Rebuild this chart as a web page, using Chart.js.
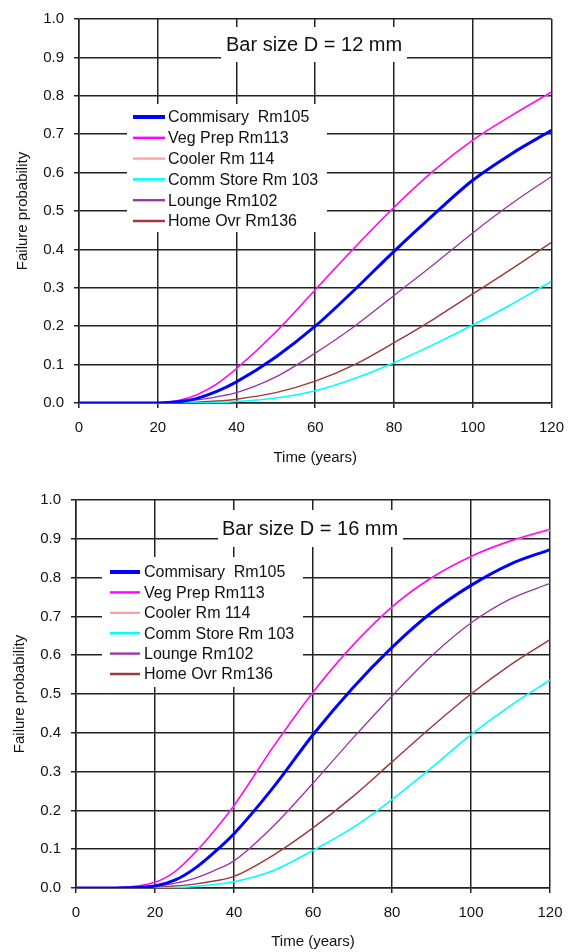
<!DOCTYPE html>
<html>
<head>
<meta charset="utf-8">
<script src="https://cdn.jsdelivr.net/npm/chart.js@4.4.0/dist/chart.umd.min.js"></script>
<style>
  body { margin: 0; background: #fff; }
  .panel { position: absolute; left: 0; width: 575px; height: 476px; }
</style>
</head>
<body>
<div class="panel" style="top:0"><canvas id="chart12"></canvas></div>
<div class="panel" style="top:476px"><canvas id="chart16"></canvas></div>
<script>
// time axis (years) shared by both panels
var years = [0, 10, 20, 25, 30, 35, 40, 50, 60, 70, 80, 90, 100, 110, 120];

var rooms = ["Commisary  Rm105", "Veg Prep Rm113", "Cooler Rm 114", "Comm Store Rm 103", "Lounge Rm102", "Home Ovr Rm136"];
var roomColors = ['#0000ff', '#ff00ff', '#ff9c9c', '#00ffff', '#9933a6', '#a03a3a'];
var roomWidths = [3, 1.4, 1.2, 1.6, 1.3, 1.5];

// bar size D = 12 mm
var commisary12 = [0, 0, 0, 0.003, 0.012, 0.03, 0.055, 0.12, 0.20, 0.295, 0.395, 0.49, 0.58, 0.65, 0.71];
var vegPrep12   = [0, 0, 0, 0.006, 0.022, 0.05, 0.09, 0.185, 0.295, 0.405, 0.51, 0.605, 0.685, 0.75, 0.81];
var cooler12    = [0, 0, 0, 0.005, 0.021, 0.049, 0.089, 0.184, 0.294, 0.404, 0.508, 0.603, 0.683, 0.748, 0.808];
var commStore12 = [0, 0, 0, 0, 0, 0.001, 0.004, 0.013, 0.032, 0.064, 0.105, 0.152, 0.203, 0.258, 0.317];
var lounge12    = [0, 0, 0, 0.002, 0.008, 0.016, 0.027, 0.068, 0.13, 0.20, 0.28, 0.36, 0.443, 0.52, 0.59];
var homeOvr12   = [0, 0, 0, 0, 0.002, 0.005, 0.01, 0.027, 0.057, 0.10, 0.157, 0.218, 0.284, 0.35, 0.418];

// bar size D = 16 mm
var commisary16 = [0, 0, 0.005, 0.02, 0.05, 0.092, 0.14, 0.26, 0.395, 0.515, 0.62, 0.71, 0.78, 0.835, 0.872];
var vegPrep16   = [0, 0.001, 0.015, 0.042, 0.09, 0.148, 0.213, 0.365, 0.505, 0.625, 0.725, 0.80, 0.855, 0.895, 0.925];
var cooler16    = [0, 0.001, 0.014, 0.041, 0.089, 0.146, 0.211, 0.363, 0.503, 0.623, 0.723, 0.798, 0.853, 0.893, 0.922];
var commStore16 = [0, 0, 0, 0.001, 0.004, 0.009, 0.016, 0.045, 0.097, 0.155, 0.228, 0.31, 0.395, 0.47, 0.536];
var lounge16    = [0, 0, 0.005, 0.012, 0.025, 0.045, 0.07, 0.16, 0.27, 0.385, 0.495, 0.598, 0.683, 0.745, 0.785];
var homeOvr16   = [0, 0, 0.002, 0.005, 0.01, 0.018, 0.03, 0.085, 0.155, 0.235, 0.325, 0.415, 0.50, 0.575, 0.64];

Chart.defaults.font.family = '"Liberation Sans", Arial, sans-serif';
Chart.defaults.color = '#111';

function toPoints(vals) {
  return vals.map(function (v, i) { return { x: years[i], y: v }; });
}

function makeDatasets(series) {
  return series.map(function (vals, i) {
    return {
      label: rooms[i],
      data: toPoints(vals),
      borderColor: roomColors[i],
      borderWidth: roomWidths[i],
      pointRadius: 0,
      fill: false,
      cubicInterpolationMode: 'monotone'
    };
  });
}

// white title box and legend box drawn inside the plot area
var boxPlugin = {
  id: 'boxes',
  afterDatasetsDraw: function (chart, args, opts) {
    var ctx = chart.ctx, a = chart.chartArea;
    var t = opts.title, l = opts.legend;
    ctx.save();
    ctx.fillStyle = '#fff';
    ctx.fillRect(a.left + t.x, a.top + t.y, t.w, t.h);
    ctx.fillStyle = '#111';
    ctx.font = '20px "Liberation Sans", Arial, sans-serif';
    ctx.textBaseline = 'middle';
    ctx.textAlign = 'left';
    ctx.fillText(t.text, a.left + t.x + t.pad, a.top + t.y + t.h / 2 + 1);

    ctx.fillStyle = '#fff';
    ctx.fillRect(a.left + l.x, a.top + l.y, l.w, l.h);
    ctx.font = '16px "Liberation Sans", Arial, sans-serif';
    chart.data.datasets.forEach(function (ds, i) {
      var y = a.top + l.y + l.first + i * l.gap;
      var x0 = a.left + l.x + l.lineX;
      ctx.strokeStyle = ds.borderColor;
      ctx.lineWidth = ds.borderWidth + 1;
      ctx.beginPath();
      ctx.moveTo(x0, y);
      ctx.lineTo(x0 + l.lineW, y);
      ctx.stroke();
      ctx.fillStyle = '#111';
      ctx.fillText(ds.label, a.left + l.x + l.textX, y + 1);
    });
    ctx.restore();
  }
};

function makeConfig(series, o) {
  return {
    type: 'line',
    data: { datasets: makeDatasets(series) },
    plugins: [boxPlugin],
    options: {
      responsive: true,
      maintainAspectRatio: false,
      animation: false,
      layout: { padding: o.padding },
      plugins: {
        legend: { display: false },
        tooltip: { enabled: false },
        boxes: { title: o.title, legend: o.legend }
      },
      scales: {
        x: {
          type: 'linear',
          min: 0,
          max: 120,
          ticks: { stepSize: 20, padding: 11, font: { size: 15 }, maxRotation: 0 },
          grid: { color: '#222', lineWidth: 1.5, tickLength: 5 },
          border: { color: '#222', width: 1.5 },
          title: { display: true, text: 'Time (years)', font: { size: 15 }, padding: 0 },
          afterFit: function (s) { s.height = o.xHeight; }
        },
        y: {
          min: 0,
          max: 1,
          ticks: {
            stepSize: 0.1,
            padding: 10,
            font: { size: 15 },
            callback: function (v) { return v.toFixed(1); }
          },
          grid: { color: '#222', lineWidth: 1.5, tickLength: 5 },
          border: { color: '#222', width: 1.5 },
          title: { display: true, text: 'Failure probability', font: { size: 15 }, padding: { top: o.yTitlePad, bottom: 0 } },
          afterFit: function (s) { s.width = o.yWidth; }
        }
      }
    }
  };
}

new Chart(document.getElementById('chart12'), makeConfig(
  [commisary12, vegPrep12, cooler12, commStore12, lounge12, homeOvr12],
  {
    padding: { top: 15, right: 21, bottom: 9, left: 0 },
    xHeight: 64, yWidth: 79, yTitlePad: 14,
    title: { text: 'Bar size D = 12 mm', x: 142, y: 8, w: 186, h: 35, pad: 5 },
    legend: { x: 48, y: 85, w: 200, h: 128, first: 13, gap: 20.8, lineX: 6, lineW: 32, textX: 41 }
  }
));

new Chart(document.getElementById('chart16'), makeConfig(
  [commisary16, vegPrep16, cooler16, commStore16, lounge16, homeOvr16],
  {
    padding: { top: 24, right: 25, bottom: 1, left: 0 },
    xHeight: 63, yWidth: 76, yTitlePad: 11,
    title: { text: 'Bar size D = 16 mm', x: 142, y: 10, w: 185, h: 37, pad: 4 },
    legend: { x: 26, y: 57, w: 201, h: 130, first: 15, gap: 20.4, lineX: 8, lineW: 30, textX: 42 }
  }
));
</script>
</body>
</html>
